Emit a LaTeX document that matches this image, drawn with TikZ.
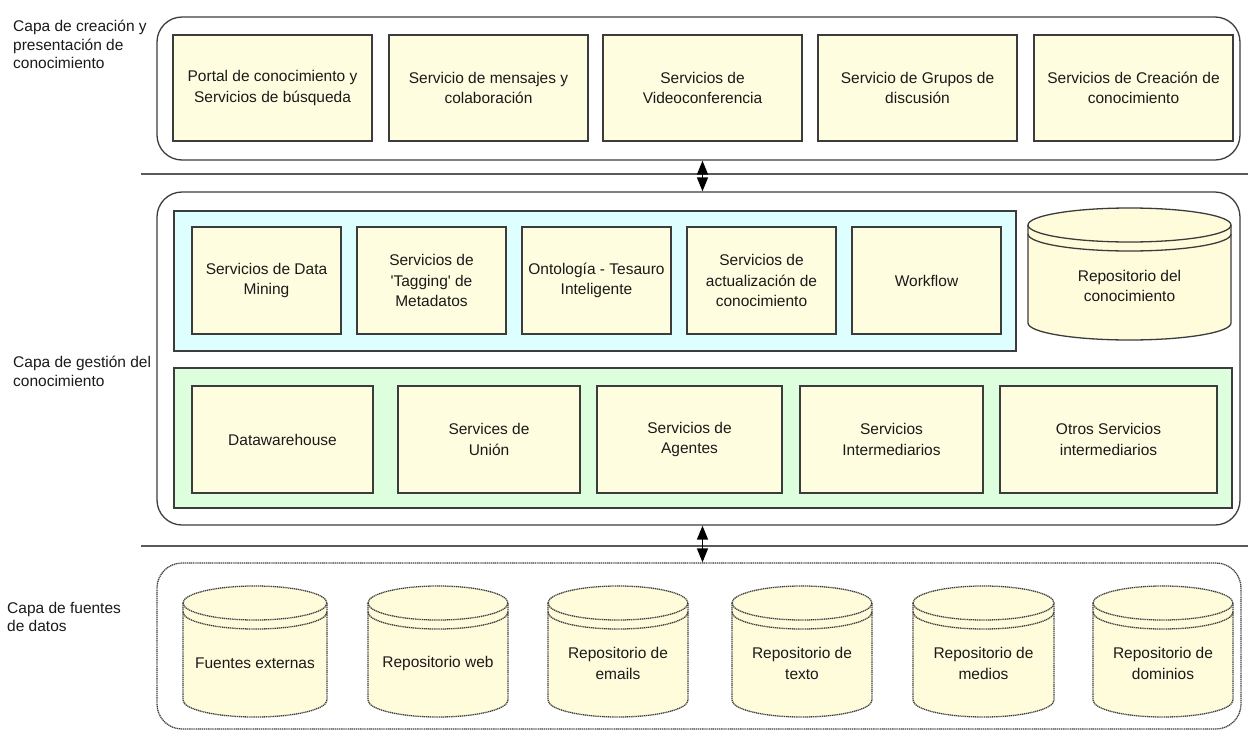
\documentclass[tikz,border=0pt]{standalone}
\usepackage{fontspec}
\setmainfont{Liberation Sans}
\usetikzlibrary{arrows.meta}
\definecolor{boxfill}{HTML}{FFFDE0}
\definecolor{cylfill}{HTML}{FFFCDC}
\definecolor{cyanfill}{HTML}{DDFFFF}
\definecolor{greenfill}{HTML}{DDFFDD}
\definecolor{edge}{HTML}{3C3C3C}
\definecolor{sepcol}{HTML}{5A5A5A}
\definecolor{txtcol}{HTML}{1A1A1A}
\tikzset{
  layer/.style={draw=edge, line width=1.3pt, rounded corners=25pt, inner sep=0pt, fill=white},
  dotlayer/.style={layer, dash pattern=on 1.2pt off 0.7pt},
  band/.style={draw=edge, line width=1.2pt, inner sep=0pt},
  svc/.style={draw=edge, fill=boxfill, line width=1.4pt, inner sep=0pt, align=center,
    font=\fontsize{15.5}{20.5}\selectfont, text=txtcol},
  cyl/.style={draw=edge, fill=cylfill, line width=1.3pt},
  dotcyl/.style={cyl, dash pattern=on 1.2pt off 0.7pt},
  cyltext/.style={inner sep=0pt, align=center, font=\fontsize{15.5}{20.5}\selectfont, text=txtcol},
  lbl/.style={inner sep=0pt, align=left, anchor=north west, font=\fontsize{15.5}{18.5}\selectfont, text=txtcol},
  sepline/.style={draw=sepcol, line width=2pt},
  dbl/.style={line width=1.5pt, black, {Triangle[length=14pt,width=11pt]}-{Triangle[length=14pt,width=11pt]}}
}
% #1 style, #2 name, #3 x1, #4 x2, #5 ytop, #6 ybot, #7 text
\newcommand\dbcyl[7]{%
  \pgfmathsetmacro\cylrx{(#4-#3)/2}%
  \pgfmathsetmacro\cylcx{(#4+#3)/2}%
  \pgfmathsetmacro\cylcy{(#5+#6)/2+12}%
  \path[#1] (#3,#5+17) -- (#3,#6-17) arc[start angle=180,end angle=0,x radius=\cylrx,y radius=17]
     -- (#4,#5+17) arc[start angle=0,end angle=-180,x radius=\cylrx,y radius=17] -- cycle;
  \draw[#1,fill=none] (#3,#5+17) arc[start angle=180,end angle=0,x radius=\cylrx,y radius=17];
  \draw[#1,fill=none] (#3,#5+26) arc[start angle=180,end angle=0,x radius=\cylrx,y radius=17];
  \node[cyltext] (#2) at (\cylcx,\cylcy) {#7};%
}
\begin{document}
\begin{tikzpicture}[x=1pt,y=-1pt]
\useasboundingbox (0,0) rectangle (1248,734);

% layer labels
\node[lbl] (lab1) at (13,20) {Capa de creación y\\presentación de\\conocimiento};
\node[lbl] (lab2) at (13,356) {Capa de gestión del\\conocimiento};
\node[lbl] (lab3) at (7,602) {Capa de fuentes\\de datos};

% separators
\draw[sepline] (141,174) -- (1248,174);
\draw[sepline] (141,546) -- (1248,546);

% layers
\node[layer, minimum width=1083pt, minimum height=143pt] (top) at (698.5,88.5) {};
\node[layer, minimum width=1083pt, minimum height=333pt] (mid) at (698.5,358.5) {};
\node[dotlayer, minimum width=1084pt, minimum height=166pt] (bot) at (699,646) {};

% top row
\node[svc, minimum width=199pt, minimum height=106pt] (t1) at (272.5,88) {Portal de conocimiento y\\Servicios de búsqueda};
\node[svc, minimum width=199pt, minimum height=106pt] (t2) at (488.5,88) {Servicio de mensajes y\\colaboración};
\node[svc, minimum width=199pt, minimum height=106pt] (t3) at (702.5,88) {Servicios de\\Videoconferencia};
\node[svc, minimum width=199pt, minimum height=106pt] (t4) at (917.5,88) {Servicio de Grupos de\\discusión};
\node[svc, minimum width=199pt, minimum height=106pt] (t5) at (1133.5,88) {Servicios de Creación de\\conocimiento};

% cyan band
\node[band, fill=cyanfill, minimum width=842pt, minimum height=140pt] (cyanband) at (595,281) {};
\node[svc, minimum width=149pt, minimum height=107pt] (c1) at (266.5,280.5) {Servicios de Data\\Mining};
\node[svc, minimum width=149pt, minimum height=107pt] (c2) at (431.5,280.5) {Servicios de\\\textquotesingle Tagging\textquotesingle\ de\\Metadatos};
\node[svc, minimum width=149pt, minimum height=107pt] (c3) at (596.5,280.5) {Ontología - Tesauro\\Inteligente};
\node[svc, minimum width=149pt, minimum height=107pt] (c4) at (761.5,280.5) {Servicios de\\actualización de\\conocimiento};
\node[svc, minimum width=149pt, minimum height=107pt] (c5) at (926.5,280.5) {Workflow};

\dbcyl{cyl}{repcon}{1028}{1231}{208}{340}{Repositorio del\\conocimiento}

% green band
\node[band, fill=greenfill, minimum width=1058pt, minimum height=140pt] (greenband) at (703,438) {};
\node[svc, minimum width=181pt, minimum height=107pt] (g1) at (282.5,439.5) {Datawarehouse};
\node[svc, minimum width=182pt, minimum height=107pt] (g2) at (489,439.5) {Services de\\Unión};
\node[svc, minimum width=185pt, minimum height=107pt] (g3) at (689.5,439.5) {Servicios de\\Agentes};
\node[svc, minimum width=183pt, minimum height=107pt] (g4) at (891.5,439.5) {Servicios\\Intermediarios};
\node[svc, minimum width=217pt, minimum height=107pt] (g5) at (1108.5,439.5) {Otros Servicios\\intermediarios};

% data sources
\dbcyl{dotcyl}{d1}{183}{327}{586}{717}{Fuentes externas}
\dbcyl{dotcyl}{d2}{368}{508}{586}{717}{Repositorio web}
\dbcyl{dotcyl}{d3}{548}{688}{586}{717}{Repositorio de\\emails}
\dbcyl{dotcyl}{d4}{732}{872}{586}{717}{Repositorio de\\texto}
\dbcyl{dotcyl}{d5}{913}{1054}{586}{717}{Repositorio de\\medios}
\dbcyl{dotcyl}{d6}{1093}{1233}{586}{717}{Repositorio de\\dominios}

% arrows between layers
\draw[dbl] (top.south -| t3.center) -- (mid.north -| t3.center);
\draw[dbl] (mid.south -| t3.center) -- (bot.north -| t3.center);
\end{tikzpicture}
\end{document}
